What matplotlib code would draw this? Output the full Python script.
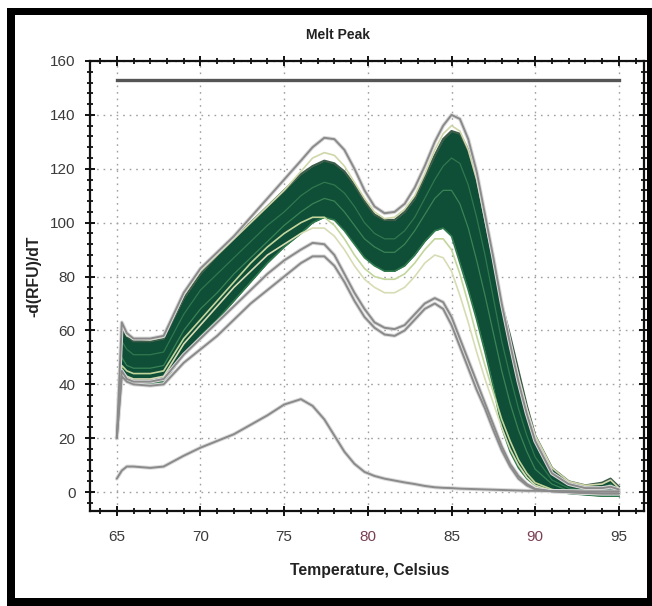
import matplotlib
matplotlib.use("Agg")
import matplotlib.pyplot as plt
from matplotlib.ticker import MultipleLocator
from matplotlib.patches import Rectangle

# ---------------- data ----------------
temperature = [65.0, 65.3, 65.6, 66.0, 67.0, 67.8, 69.0, 70.0, 71.0, 72.0,
               73.0, 74.0, 75.0, 76.0, 76.7, 77.4, 78.0, 78.6, 79.2, 79.8,
               80.4, 81.0, 81.6, 82.2, 82.8, 83.4, 84.0, 84.5, 85.0, 85.5,
               86.0, 86.5, 87.0, 87.5, 88.0, 88.5, 89.0, 89.5, 90.0, 91.0,
               92.0, 93.0, 94.0, 94.5, 95.0]

# upper / lower edge of the dense bundle of sample curves
band_hi = [20, 61, 58, 56, 56, 57, 72, 81, 88, 94,
           100, 106, 112, 118, 121, 123, 122, 119, 114, 108,
           103, 101, 101, 104, 109, 117, 125, 131, 134, 133,
           127, 117, 102, 86, 70, 58, 45, 32, 21, 9,
           4, 2.5, 3.5, 5, 2]
band_lo = [20, 43, 41, 40, 40, 41, 51, 58, 64, 71,
           78, 85, 91, 96, 100, 102, 101, 97, 92, 87,
           84, 82, 82, 84, 88, 93, 97, 98, 95, 85,
           75, 64, 52, 39, 24, 15, 9, 5, 2.5, 0.5,
           -0.5, -1, -1.5, -1.5, -1.5]

# individual curves inside the bundle
mid_1 = [20, 56, 53, 51, 51, 52, 66, 75, 81, 87,
         93, 99, 104, 110, 113, 115, 114, 111, 106, 100,
         96, 94, 94, 97, 102, 109, 116, 121, 124, 122,
         114, 102, 88, 72, 56, 43, 31, 21, 13, 4.5,
         1.5, 0.5, 1.5, 3, 0.5]
mid_2 = [20, 50, 47, 46, 46, 47, 60, 68, 74, 81,
         87, 93, 99, 104, 107, 109, 108, 104, 99, 94,
         91, 89, 89, 92, 97, 103, 109, 112, 112, 107,
         98, 86, 73, 59, 45, 33, 23, 15, 8.5, 3,
         0.5, 0, 0.5, 2, 0]
pale_top = [20, 62, 58, 57, 56.5, 57.5, 73, 82, 88, 94,
            100, 106, 112, 119, 124, 126, 125, 121, 115, 109,
            104, 101.5, 102, 105, 110, 118, 127, 133, 136, 134,
            127, 116, 101, 86, 70, 56, 43, 31, 21, 9,
            4, 2.5, 3, 4.5, 1.5]
pale_1 = [20, 45, 43, 42, 42, 43, 55, 62, 69, 76,
          82, 88, 92, 96, 98, 98, 95, 90, 84, 79,
          76, 74, 74, 76, 80, 85, 88, 87, 82, 73,
          63, 52, 42, 33, 24, 16, 10, 5.5, 2.5, 0.5,
          0, -0.5, -0.5, -0.5, -0.5]
pale_2 = [20, 47, 45, 44, 44, 45, 57, 64, 71, 78,
          85, 91, 96, 100, 102, 102, 99, 94, 88, 83,
          80, 79, 79, 81, 85, 90, 94, 94, 90, 81,
          70, 58, 47, 37, 27, 19, 12, 7, 3.5, 1,
          0, -0.5, -0.5, -0.5, -0.5]

# grey outlier curves
gray_top = [20, 63, 59, 57, 57, 58, 74, 83, 89, 95,
            102, 109, 116, 123, 128, 131.5, 131, 127, 120, 112,
            106, 103.5, 104, 107, 113, 121, 130, 136, 140, 138.5,
            131, 119, 103, 87, 70, 55, 41, 29, 19, 7,
            3, 1.5, 1.5, 2, 1]
gray_2 = [20, 45, 42, 41, 41, 42, 51, 57, 63, 69,
          75, 81, 86, 90, 92.5, 92, 88, 81, 74, 68,
          63, 61, 60.5, 62, 66, 70, 72, 70.5, 65, 57,
          49, 41, 33, 25, 17, 10.5, 6, 3, 1.2, 0.3,
          0, -0.3, -0.5, -0.5, -0.5]
gray_1 = [20, 43, 41, 40, 39.5, 40, 48, 53, 58, 64,
          70, 75, 80, 85, 87.5, 87.5, 84, 78, 71, 65,
          61, 58.5, 58, 60, 64, 68, 70, 68, 62, 54,
          46, 38, 31, 23, 15.5, 9.5, 5, 2.5, 1, 0.3,
          0, -0.3, -0.5, -0.5, -0.5]
gray_low = [5, 8, 9.5, 9.5, 9, 9.5, 13.5, 16.5, 19, 21.5,
            25, 28.5, 32.5, 34.5, 32, 27, 21, 15, 10.5, 7.5,
            6, 5, 4.3, 3.6, 3, 2.3, 1.8, 1.6, 1.5, 1.3,
            1.2, 1.1, 1.0, 0.9, 0.8, 0.7, 0.6, 0.5, 0.5, 0.4,
            0.4, 0.3, 0.3, 0.3, 0.3]

# threshold line near the top
threshold_x = [65, 95]
threshold_y = [153, 153]

xticks = [65, 70, 75, 80, 85, 90, 95]
xtick_labels = ["65", "70", "75", "80", "85", "90", "95"]
yticks = [0, 20, 40, 60, 80, 100, 120, 140, 160]
ytick_labels = ["0", "20", "40", "60", "80", "100", "120", "140", "160"]

title = "Melt Peak"
xlabel = "Temperature, Celsius"
ylabel = "-d(RFU)/dT"

# ---------------- figure ----------------
W, H = 652, 606
fam = ["Liberation Sans", "DejaVu Sans"]
plt.rcParams["font.family"] = fam

fig = plt.figure(figsize=(W / 100, H / 100), dpi=100)
fig.patch.set_facecolor("white")

ax_l, ax_r, ax_t, ax_b = 90, 644, 61, 511
ax = fig.add_axes([ax_l / W, 1 - ax_b / H, (ax_r - ax_l) / W, (ax_b - ax_t) / H])

dark = "#0f4e37"
ax.fill_between(temperature, band_lo, band_hi, color=dark, lw=0, zorder=2)
ax.plot(temperature, band_hi, color="#3d5c4a", lw=1.6, zorder=2.1)
ax.plot(temperature, band_lo, color="#2f7a4c", lw=1.2, zorder=2.1)
ax.plot(temperature, mid_1, color="#3e8a58", lw=0.9, alpha=0.7, zorder=2.2)
ax.plot(temperature, mid_2, color="#4c9a62", lw=0.9, alpha=0.7, zorder=2.2)
ax.plot(temperature, pale_top, color="#cfd6a8", lw=1.2, zorder=2.3)
ax.plot(temperature, pale_2, color="#c2d69c", lw=1.2, zorder=2.3)
ax.plot(temperature, pale_1, color="#d8dcb4", lw=1.2, zorder=2.3)

gray = "#8a8a8a"
for curve in (gray_top, gray_2, gray_1, gray_low):
    ax.plot(temperature, curve, color="#dadada", lw=2.8, zorder=2.4, solid_capstyle="round")
    ax.plot(temperature, curve, color=gray, lw=1.4, zorder=2.5, solid_capstyle="round")

ax.plot(threshold_x, threshold_y, color="#555555", lw=2.4, zorder=2.6)

ax.set_xlim(63.4, 96.5)
ax.set_ylim(-7, 160)
ax.set_xticks(xticks)
ax.set_xticklabels(xtick_labels)
ax.set_yticks(yticks)
ax.set_yticklabels(ytick_labels)
ax.xaxis.set_minor_locator(MultipleLocator(1))
ax.yaxis.set_minor_locator(MultipleLocator(4))

ax.tick_params(which="major", direction="inout", length=7, width=1.4, color="#111111",
               top=True, right=True, labelsize=11, labelcolor="#3a3a3a")
ax.tick_params(axis="x", which="major", pad=10)
ax.tick_params(axis="y", which="major", pad=7)
ax.tick_params(which="minor", direction="inout", length=4.5, width=1.3, color="#111111",
               top=True, right=True)
for lab in ax.get_xticklabels():
    if lab.get_text() in ("80", "90"):
        lab.set_color("#7a3f55")

ax.grid(True, which="major", color="#a0a0a0", linestyle=(0, (1.2, 3.5)), linewidth=1.0, zorder=1)
ax.set_axisbelow(True)
for sp in ax.spines.values():
    sp.set_color("#111111")
    sp.set_linewidth(1.6)

fig.text(338 / W, 1 - 35 / H, title, ha="center", va="center", fontsize=10,
         fontweight="bold", color="#222222")
fig.text(370 / W, 1 - 571 / H, xlabel, ha="center", va="center", fontsize=11.3,
         fontweight="bold", color="#222222")
fig.text(34 / W, 1 - 276 / H, ylabel, ha="center", va="center", fontsize=11.3,
         fontweight="bold", color="#222222", rotation=90)

# outer black frame of the screenshot
def px_rect(x0, y0, x1, y1):
    fig.add_artist(Rectangle((x0 / W, 1 - y1 / H), (x1 - x0) / W, (y1 - y0) / H,
                             transform=fig.transFigure, facecolor="black",
                             edgecolor="none", zorder=10))

px_rect(7, 8, 652, 15)      # top
px_rect(7, 8, 15, 606)      # left
px_rect(7, 598, 652, 606)   # bottom
px_rect(647, 8, 652, 606)   # right

fig.savefig("out.png", dpi=100, facecolor="white")
